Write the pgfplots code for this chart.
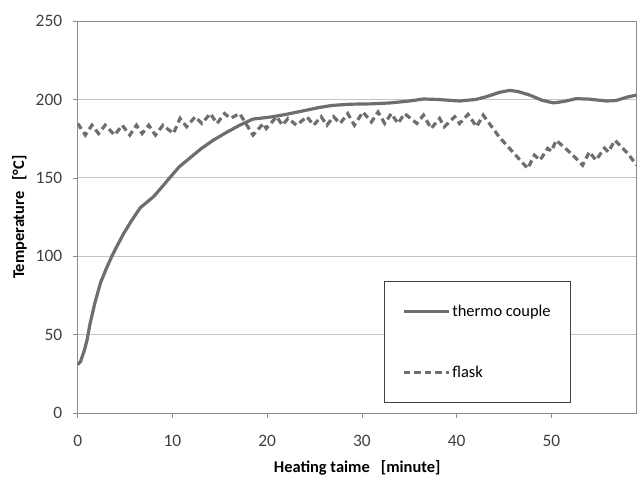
\documentclass[border=0pt]{standalone}
\usepackage{fontspec}
\setmainfont{Carlito}
\usepackage{pgfplots}
\pgfplotsset{compat=1.18}

\definecolor{linegray}{HTML}{6E6E6E}
\definecolor{gridgray}{HTML}{C4C4C4}
\definecolor{axisgray}{HTML}{8C8C8C}
\definecolor{ticktext}{HTML}{404040}

\begin{document}
\begin{tikzpicture}
\path (0bp,0bp) rectangle (642bp,484bp);
\begin{axis}[
  at={(77.7bp,70.7bp)}, anchor=south west,
  scale only axis,
  width=559bp, height=392.3bp,
  xmin=0, xmax=59, ymin=0, ymax=250,
  xtick={0,10,20,30,40,50},
  ytick={0,50,100,150,200,250},
  tick align=outside,
  tick pos=left,
  major tick length=5bp,
  tick style={axisgray, line width=0.8bp},
  axis line style={axisgray, line width=0.9bp},
  ymajorgrids, grid style={gridgray, line width=0.9bp},
  /pgf/number format/assume math mode=true,
  ticklabel style={font=\fontsize{17.5}{19}\selectfont, text=ticktext},
  xticklabel style={yshift=-13bp},
  yticklabel style={xshift=-7bp},
  xlabel={\textbf{Heating taime\ \ \ [minute]}},
  ylabel={\textbf{Temperature\ \ \ [\textdegree C]}},
  label style={font=\fontsize{16.5}{18}\selectfont},
  xlabel style={yshift=-7bp},
  ylabel style={yshift=2bp},
  legend style={at={(axis cs:32.3,84.5)}, anchor=north west,
    draw=black!75, line width=0.8bp, fill=white,
    font=\fontsize{16.5}{18}\selectfont,
    inner xsep=18bp, inner ysep=22bp, row sep=44bp,
    /tikz/every odd column/.style={column sep=0bp}},
  legend cell align=left,
  legend image code/.code={\draw[#1] (0bp,0bp) -- (45bp,0bp);},
]
\addplot[linegray, line width=3.2bp, line join=round] coordinates {
  (0,31) (0.3,33) (0.7,40) (1,47) (1.3,57) (1.8,70) (2.4,83) (3,92)
  (3.6,100) (4.1,106) (4.8,114) (5.6,122) (6.6,131) (8,138) (9,145)
  (9.7,150) (10.7,157) (11.9,163) (13,168.5) (14.3,174) (15.7,179)
  (17.1,183.6) (18.5,187.5) (19.5,188.2) (20.6,189) (22,190.5) (24,193)
  (25.6,195) (27,196.3) (29,197) (31,197.2) (33,197.8) (35,199)
  (36.5,200.3) (38,200) (40.3,199) (42,200) (43.1,201.7) (44.5,204.5)
  (45.6,205.8) (46.5,205) (47.7,202.8) (49,199.5) (50.2,197.8)
  (51.3,198.7) (52.6,200.5) (54,200.2) (55.8,199) (56.8,199.3)
  (58,201.5) (59,202.8)
};
\addlegendentry{thermo couple}
\addplot[linegray, line width=3.2bp, dash pattern=on 6.5bp off 4bp] coordinates {
  (0,184.7) (0.8,177.3) (1.5,183.6) (2.2,178.3) (2.9,183.6) (3.9,177.3)
  (4.7,183.6) (5.5,177.3) (6.2,183.6) (6.8,178.3) (7.5,183.6) (8.2,177.3)
  (9.0,183.6) (10.1,178.3) (10.8,187.9) (11.5,182.6) (12.4,189)
  (13.1,184.7) (14,191) (14.7,184.7) (15.5,191) (16.1,188) (17.1,191)
  (18.5,177.3) (19.6,184.7) (19.9,181.5) (21.0,189) (21.6,183.6)
  (22.2,187.9) (23.1,183.6) (24.2,189) (24.9,183.6) (25.7,189)
  (26.3,183.6) (27,189) (27.7,184.7) (28.5,191) (29.2,183.6) (30.1,192)
  (31,185.7) (31.7,192) (32.4,184.7) (33.1,191) (33.8,184.7) (34.5,191)
  (35.8,184.7) (36.5,190) (37.3,181.5) (38.2,187.9) (38.7,182.6)
  (39.8,189) (40.3,184.7) (41.2,190.5) (42.1,182.6) (42.8,190)
  (44.5,176) (46,166) (47.5,156) (48.2,164.5) (48.8,161.3) (49.6,168.8)
  (50,167) (50.5,174) (52,166) (53.3,158.1) (54,166.6) (54.7,161.3)
  (55.6,169) (56,166.5) (56.7,174) (58,166) (59,158.1)
};
\addlegendentry{flask}
\end{axis}
\end{tikzpicture}
\end{document}
